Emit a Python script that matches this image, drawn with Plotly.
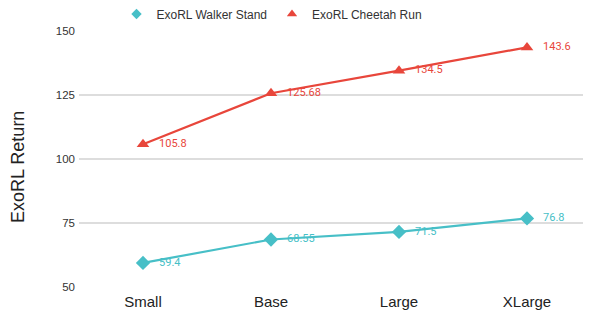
import plotly.graph_objects as go

categories = ["Small", "Base", "Large", "XLarge"]
walker = [59.4, 68.55, 71.5, 76.8]
cheetah = [105.8, 125.68, 134.5, 143.6]
walker_labels = ["59.4", "68.55", "71.5", "76.8"]
cheetah_labels = ["105.8", "125.68", "134.5", "143.6"]
y_ticks = [50, 75, 100, 125, 150]

teal = "#47BFC7"
red = "#E8463B"
label_font = "Roboto"
main_font = "Liberation Sans"

# the page body has an 8px default margin; figure size compensates for it
W, H = 583, 305
ML, MT, MB, MR = 71, 23, 26, 0
PW, PH = W - ML - MR, H - MT - MB

fig = go.Figure()
fig.add_trace(go.Scatter(
    x=categories, y=walker, name="ExoRL Walker Stand", mode="lines+markers+text",
    line=dict(color=teal, width=2.2),
    marker=dict(symbol="diamond", size=11, color=teal),
    text=["   " + t for t in walker_labels], textposition="middle right",
    textfont=dict(color=teal, size=11, family=label_font),
    showlegend=False,
))
fig.add_trace(go.Scatter(
    x=categories, y=cheetah, name="ExoRL Cheetah Run", mode="lines+markers+text",
    line=dict(color=red, width=2.2),
    marker=dict(symbol="triangle-up", size=11, color=red),
    text=["   " + t for t in cheetah_labels], textposition="middle right",
    textfont=dict(color=red, size=11, family=label_font),
    showlegend=False,
))
# legend entries (marker only)
fig.add_trace(go.Scatter(x=[None], y=[None], mode="markers", name="ExoRL Walker Stand",
                         marker=dict(symbol="diamond", size=8, color=teal)))
fig.add_trace(go.Scatter(x=[None], y=[None], mode="markers", name="ExoRL Cheetah Run",
                         marker=dict(symbol="triangle-up", size=9, color=red)))

fig.update_layout(
    width=W, height=H,
    margin=dict(l=ML, r=MR, t=MT, b=MB, autoexpand=False),
    paper_bgcolor="white", plot_bgcolor="white",
    font=dict(family=main_font, color="#222"),
    legend=dict(orientation="h", x=264 / W, xanchor="center", y=1 - 6 / H, yanchor="middle",
                xref="container", yref="container", font=dict(size=12, color="#333"),
                itemwidth=30),
    showlegend=True,
    annotations=[dict(text="ExoRL Return", textangle=-90, xref="paper", yref="paper",
                      x=(10 - ML) / PW, y=(H - MB - (167 - 8)) / PH,
                      xanchor="center", yanchor="middle", showarrow=False,
                      font=dict(size=18, color="#222", family=main_font))],
)
fig.update_xaxes(range=[-0.5, 3.5], showgrid=False, showline=False, zeroline=False,
                 tickfont=dict(size=15, color="#222"), ticks="", ticklabelstandoff=4)
fig.update_yaxes(range=[50, 150], tickvals=y_ticks, showgrid=True, gridcolor="#DDDDDD",
                 gridwidth=1.5, zeroline=False, showline=False,
                 tickfont=dict(size=11.5, color="#333"), ticklabelstandoff=3)

fig.write_html("out.html")
